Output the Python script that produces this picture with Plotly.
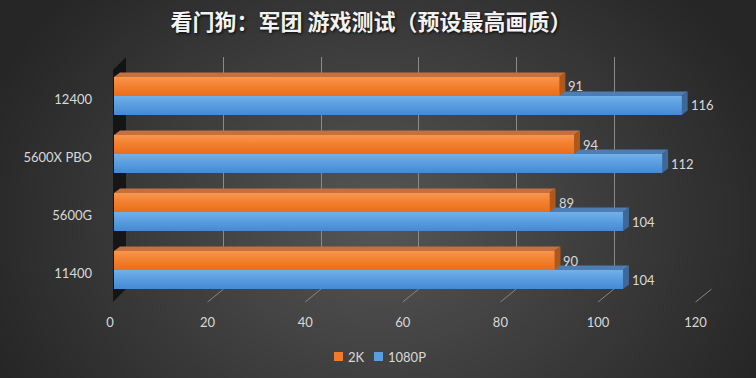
import base64
import struct
import zlib

import numpy as np
import plotly.graph_objects as go

# ---------------- data ----------------
categories = ["12400", "5600X PBO", "5600G", "11400"]
series_names = ["2K", "1080P"]
values_2k = [91, 94, 89, 90]
values_1080p = [116, 112, 104, 104]
x_ticks = [0, 20, 40, 60, 80, 100, 120]
title_text = "看门狗：军团 游戏测试（预设最高画质）"

# ---------------- geometry (pixels) ----------------
W, H = 756, 378
XMAX = 120
BAR_X0, BAR_SCALE = 114, 4.894      # front face of bars
WALL_X0, WALL_SCALE = 126, 4.88     # back wall
BAR_TOP, BAR_BOTTOM = 67, 299        # category band of bars
WALL_TOP, WALL_BOTTOM = 57, 289
FLOOR_FRONT = 302
FLOOR_DX = -16
DEPTH_DX, DEPTH_DY = 6, 4.5
PITCH = (BAR_BOTTOM - BAR_TOP) / len(categories)
BAR_W = 19 / PITCH


def px(x):
    return x / W


def py(y):
    return 1 - y / H


def background_uri():
    yy, xx = np.mgrid[0:H, 0:W].astype(float)
    r = np.sqrt(((xx - 378) / 420) ** 2 + ((yy - 220) / 330) ** 2)
    v = 38 + 48 * np.clip(1 - r, 0, 1)
    g = np.clip(np.round(v), 0, 255).astype(np.uint8)
    rgb = np.stack([g, g, g], axis=-1)
    raw = b"".join(b"\x00" + rgb[y].tobytes() for y in range(H))

    def chunk(t, d):
        return (struct.pack(">I", len(d)) + t + d +
                struct.pack(">I", zlib.crc32(t + d) & 0xFFFFFFFF))

    png = (b"\x89PNG\r\n\x1a\n" +
           chunk(b"IHDR", struct.pack(">IIBBBBB", W, H, 8, 2, 0, 0, 0)) +
           chunk(b"IDAT", zlib.compress(raw, 9)) +
           chunk(b"IEND", b""))
    return "data:image/png;base64," + base64.b64encode(png).decode()


FONT = "Lato, 'Open Sans', sans-serif"
TXT = "#d9d9d9"
ORANGE, ORANGE_TOP, ORANGE_SIDE = "#F07B2A", "#C6703F", "#B0581C"
BLUE, BLUE_TOP, BLUE_SIDE = "#5A9DDF", "#4C7DB3", "#3D6899"
ORANGE_GRAD = [[0, "#F8964E"], [0.45, "#F3812F"], [1, "#E96E1B"]]
BLUE_GRAD = [[0, "#72B0E8"], [0.45, "#5A9FE1"], [1, "#4688D4"]]

fig = go.Figure()

# invisible trace so the back-wall subplot (grid) renders
fig.add_trace(go.Scatter(x=[0, XMAX], y=[0, 1], mode="markers",
                         marker=dict(opacity=0), hoverinfo="skip",
                         showlegend=False, xaxis="x", yaxis="y"))

ypos = list(range(len(categories)))
fig.add_trace(go.Bar(name=series_names[0], x=values_2k, y=ypos, orientation="h",
                     offset=-BAR_W, width=BAR_W, marker=dict(color=ORANGE, line=dict(width=0)),
                     xaxis="x2", yaxis="y2", hoverinfo="x+name", showlegend=False))
fig.add_trace(go.Bar(name=series_names[1], x=values_1080p, y=ypos, orientation="h",
                     offset=0, width=BAR_W, marker=dict(color=BLUE, line=dict(width=0)),
                     xaxis="x2", yaxis="y2", hoverinfo="x+name", showlegend=False))

# gradient shading of the bar front faces
for vals, off, grad in ((values_2k, -BAR_W, ORANGE_GRAD), (values_1080p, 0, BLUE_GRAD)):
    for i, v in enumerate(vals):
        a, b = i + off, i + off + BAR_W
        fig.add_trace(go.Scatter(x=[0, v, v, 0, 0], y=[a, a, b, b, a], mode="lines",
                                 line=dict(width=0), fill="toself",
                                 fillgradient=dict(type="vertical", colorscale=grad,
                                                   start=a, stop=b),
                                 hoverinfo="skip", showlegend=False,
                                 xaxis="x2", yaxis="y2"))

dxu = DEPTH_DX / BAR_SCALE
dyu = DEPTH_DY / PITCH

shapes = []
# left wall
shapes.append(dict(type="path", xref="paper", yref="paper", layer="below",
                   path=(f"M {px(BAR_X0-1)},{py(WALL_TOP+13)} L {px(WALL_X0)},{py(WALL_TOP)} "
                         f"L {px(WALL_X0)},{py(WALL_BOTTOM)} L {px(BAR_X0-1)},{py(FLOOR_FRONT)} Z"),
                   fillcolor="rgba(0,0,0,0.6)", line=dict(width=0)))
# floor lines
for t in x_ticks:
    shapes.append(dict(type="line", xref="x", xsizemode="pixel", xanchor=t, x0=0, x1=FLOOR_DX,
                       yref="paper", y0=py(WALL_BOTTOM), y1=py(FLOOR_FRONT),
                       line=dict(color="#868686", width=1), layer="below"))


def faces(v, a, b, top_c, side_c):
    top = (f"M 0,{a} L {v},{a} L {v+dxu},{a-dyu} L {dxu},{a-dyu} Z")
    side = (f"M {v},{a} L {v+dxu},{a-dyu} L {v+dxu},{b-dyu} L {v},{b} Z")
    return [dict(type="path", xref="x2", yref="y2", layer="below", path=top,
                 fillcolor=top_c, line=dict(width=0)),
            dict(type="path", xref="x2", yref="y2", layer="below", path=side,
                 fillcolor=side_c, line=dict(width=0))]


annotations = []
for i, (vo, vb) in enumerate(zip(values_2k, values_1080p)):
    shapes += faces(vb, i, i + BAR_W, BLUE_TOP, BLUE_SIDE)
    shapes += faces(vo, i - BAR_W, i, ORANGE_TOP, ORANGE_SIDE)
    for v, yc in ((vo, i - BAR_W / 2), (vb, i + BAR_W / 2)):
        annotations.append(dict(x=v, y=yc, xref="x2", yref="y2", text=str(v),
                                showarrow=False, xanchor="left", yanchor="middle",
                                xshift=DEPTH_DX + 1, font=dict(family=FONT, size=13, color=TXT)))

# legend (compact, Excel style): colour square + label
LEG_Y = 356.5
for name, color, sq_x, tx_x in ((series_names[0], ORANGE, 334, 346),
                                (series_names[1], BLUE, 374, 386)):
    shapes.append(dict(type="rect", xref="paper", yref="paper",
                       x0=px(sq_x), x1=px(sq_x + 9), y0=py(LEG_Y - 4.5), y1=py(LEG_Y + 4.5),
                       fillcolor=color, line=dict(width=0)))
    annotations.append(dict(x=px(tx_x), y=py(LEG_Y), xref="paper", yref="paper", text=name,
                            showarrow=False, xanchor="left", yanchor="middle",
                            font=dict(family=FONT, size=13, color=TXT)))

fig.update_layout(
    width=W, height=H,
    margin=dict(l=0, r=0, t=0, b=0, autoexpand=False),
    paper_bgcolor="#2a2a2a", plot_bgcolor="rgba(0,0,0,0)",
    images=[dict(source=background_uri(), xref="paper", yref="paper", x=0, y=1,
                 sizex=1, sizey=1, sizing="stretch", xanchor="left", yanchor="top",
                 layer="below")],
    title=dict(text=title_text, x=px(371), y=py(22), xref="paper", yref="container",
               xanchor="center", yanchor="middle", automargin=False,
               font=dict(family="Noto Sans CJK SC", size=22, color="#f2f2f2", weight="bold",
                         shadow="1px 1px 3px rgba(0,0,0,0.9)")),
    barmode="overlay",
    showlegend=False,
    xaxis=dict(domain=[px(WALL_X0), px(WALL_X0 + WALL_SCALE * XMAX)], range=[0, XMAX],
               anchor="y", tickmode="array", tickvals=x_ticks, showgrid=True,
               gridcolor="#8a8a8a", gridwidth=1, zeroline=False, showline=False,
               ticks="", ticklabelshift=FLOOR_DX, ticklabelstandoff=24, automargin=False,
               tickfont=dict(family=FONT, size=13, color=TXT), fixedrange=True),
    yaxis=dict(domain=[py(WALL_BOTTOM), py(WALL_TOP)], range=[0, 1], anchor="x",
               visible=False, fixedrange=True, automargin=False),
    xaxis2=dict(domain=[px(BAR_X0), px(BAR_X0 + BAR_SCALE * XMAX)], range=[0, XMAX],
                anchor="y2", visible=False, fixedrange=True, automargin=False),
    yaxis2=dict(domain=[py(BAR_BOTTOM), py(BAR_TOP)], range=[len(categories) - 0.5, -0.5],
                anchor="x2", tickmode="array", tickvals=[i + 0.065 for i in ypos],
                ticktext=categories, showgrid=False, zeroline=False, showline=False,
                ticks="", ticklabelstandoff=21, automargin=False,
                tickfont=dict(family=FONT, size=13, color=TXT), fixedrange=True),
    shapes=shapes,
    annotations=annotations,
)

fig.write_html("out.html", config={"displayModeBar": False},
               post_script="document.body.style.margin='0px';")
